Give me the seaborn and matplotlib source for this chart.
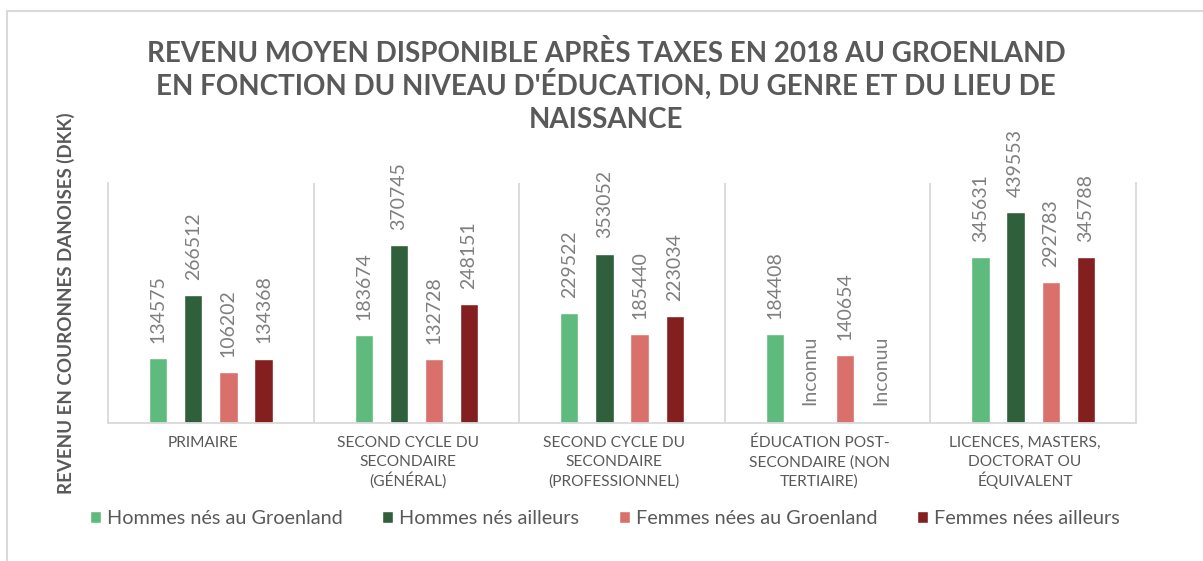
import numpy as np
import pandas as pd
import matplotlib
matplotlib.use("Agg")
import matplotlib.pyplot as plt
from matplotlib.patches import Rectangle
import seaborn as sns

# Education levels (x categories)
categories = [
    "PRIMAIRE",
    "SECOND CYCLE DU\nSECONDAIRE\n(GÉNÉRAL)",
    "SECOND CYCLE DU\nSECONDAIRE\n(PROFESSIONNEL)",
    "ÉDUCATION POST-\nSECONDAIRE (NON\nTERTIAIRE)",
    "LICENCES, MASTERS,\nDOCTORAT OU\nÉQUIVALENT",
]

# Series (gender x place of birth)
series_names = [
    "Hommes nés au Groenland",
    "Hommes nés ailleurs",
    "Femmes nées au Groenland",
    "Femmes nées ailleurs",
]
hommes_groenland = [134575, 183674, 229522, 184408, 345631]
hommes_ailleurs = [266512, 370745, 353052, np.nan, 439553]
femmes_groenland = [106202, 132728, 185440, 140654, 292783]
femmes_ailleurs = [134368, 248151, 223034, np.nan, 345788]

# Text shown where a value is unavailable
missing_labels = {("Hommes nés ailleurs", 3): "Inconnu",
                  ("Femmes nées ailleurs", 3): "Inconuu"}

colors = ["#5FBB7D", "#2F5F3B", "#D9706C", "#841F1F"]

title_lines = [
    "REVENU MOYEN DISPONIBLE APRÈS TAXES EN 2018 AU GROENLAND",
    "EN FONCTION DU NIVEAU D'ÉDUCATION, DU GENRE ET DU LIEU DE",
    "NAISSANCE",
]
ylabel = "REVENU EN COURONNES DANOISES (DKK)"

values = [hommes_groenland, hommes_ailleurs, femmes_groenland, femmes_ailleurs]
rows = []
for name, vals in zip(series_names, values):
    for cat, v in zip(categories, vals):
        rows.append({"cat": cat, "serie": name, "val": v})
df = pd.DataFrame(rows)

sns.set_theme(style="white")
plt.rcParams["font.family"] = ["Lato", "DejaVu Sans"]

text_gray = "#595959"
label_gray = "#7F7F7F"
grid_gray = "#D9D9D9"

W, H = 1203, 561
fig = plt.figure(figsize=(W / 100, H / 100), dpi=100)
ax_top, ax_bottom = 183, 423
ax = fig.add_axes([108 / W, 1 - ax_bottom / H, 1028 / W,
                   (ax_bottom - ax_top) / H])

width = 0.684
sns.barplot(data=df, x="cat", y="val", hue="serie", order=categories,
            hue_order=series_names, palette=colors, width=width, gap=0.48,
            saturation=1, errorbar=None, ax=ax, legend=True)

ax.set_ylim(0, 500000)
ax.set_xlim(-0.5, len(categories) - 0.5)
ax.set_yticks([])
ax.set_xlabel("")
ax.set_ylabel(ylabel, fontsize=13.5, fontweight="bold", color=text_gray,
              labelpad=24)

# Category separators
for b in np.arange(0.5, len(categories) - 0.5, 1):
    ax.axvline(b, color=grid_gray, lw=1.3, zorder=0)
for side in ["left", "right", "bottom"]:
    ax.spines[side].set_visible(True)
    ax.spines[side].set_color(grid_gray)
    ax.spines[side].set_linewidth(1.3)
ax.spines["top"].set_visible(False)

# Category names, one text per line for even line spacing
ax.set_xticks(range(len(categories)))
ax.set_xticklabels([""] * len(categories))
ax.tick_params(axis="x", length=0)
plot_h = ax_bottom - ax_top
for i, cat in enumerate(categories):
    for j, line in enumerate(cat.split("\n")):
        y_px = 447 + 19.5 * j
        ax.text(i - 0.04, (ax_bottom - y_px) / plot_h, line,
                transform=ax.get_xaxis_transform(), ha="center",
                va="baseline", fontsize=11.2, color=text_gray)

# Value labels above each bar
slot = width / len(series_names)
for h, (name, vals) in enumerate(zip(series_names, values)):
    for i, v in enumerate(vals):
        xpos = i + (h - (len(series_names) - 1) / 2) * slot
        if np.isnan(v):
            ax.annotate(missing_labels[(name, i)], (xpos, 0),
                        xytext=(0, 13), textcoords="offset points",
                        rotation=90, ha="center", va="bottom",
                        fontsize=14, color=label_gray)
        else:
            ax.annotate(f"{int(v)}", (xpos, v), xytext=(0, 11),
                        textcoords="offset points", rotation=90,
                        ha="center", va="bottom", fontsize=14,
                        color=label_gray)

leg = ax.legend(loc="center", bbox_to_anchor=(0.483, -0.397), ncol=4,
                frameon=False, fontsize=14.3, handlelength=0.55,
                handleheight=0.55, handletextpad=0.3, columnspacing=2.0)
for t in leg.get_texts():
    t.set_color(text_gray)

# Title, one text per line
for k, line in enumerate(title_lines):
    fig.text(0.504, 1 - (62 + 33 * k) / H, line, ha="center",
             va="baseline", fontsize=20, fontweight="bold", color=text_gray)

# Chart area border
fig.add_artist(Rectangle((7 / W, -0.1), 1.2, 1 - 11 / H + 0.1,
                         transform=fig.transFigure, fill=False,
                         edgecolor=grid_gray, lw=1.5))

fig.savefig("out.png", dpi=100)
